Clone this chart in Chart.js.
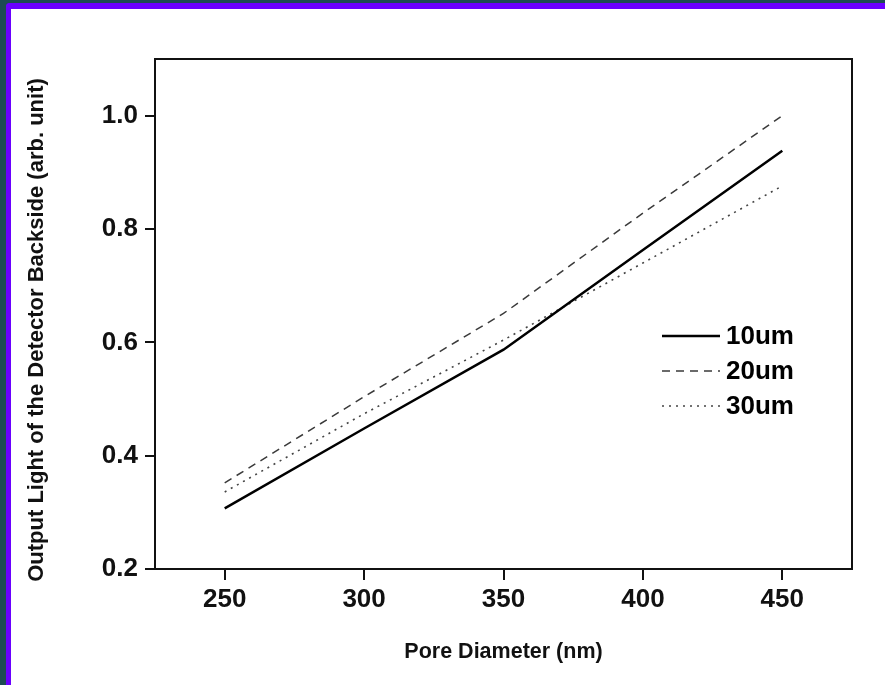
<!DOCTYPE html>
<html>
<head>
<meta charset="utf-8">
<script src="https://cdn.jsdelivr.net/npm/chart.js@4.4.1/dist/chart.umd.min.js"></script>
<style>
  html, body { margin: 0; padding: 0; background: #1d4b53; overflow: hidden; }
  #frame {
    position: absolute; left: 6px; top: 3px;
    width: 879px; height: 682px;
    border-left: 5px solid #6a00ff; border-top: 6px solid #6a00ff;
    border-top-left-radius: 4px;
    background: #fff;
  }
  #wrap { position: absolute; left: 0; top: 0; width: 874px; height: 676px; }
</style>
</head>
<body>
<div id="frame"><div id="wrap"><canvas id="poreChart"></canvas></div></div>
<script>
const poreSizes = [250, 300, 350, 400, 450];
const out10um = [0.307, 0.448, 0.587, 0.763, 0.938];
const out20um = [0.352, 0.504, 0.651, 0.828, 1.0];
const out30um = [0.336, 0.474, 0.604, 0.740, 0.876];
const xTicks = [250, 300, 350, 400, 450];
const yTicks = [0.2, 0.4, 0.6, 0.8, 1.0];
const yTitle = "Output Light of the Detector Backside (arb. unit)";

const FONT = "'Liberation Sans', Arial, sans-serif";

function pts(values) {
  return poreSizes.map((x, i) => ({ x: x, y: values[i] }));
}

// frame around plot area, y title and legend inside the plot
const boxAndLegend = {
  id: "boxAndLegend",
  afterDatasetsDraw(chart) {
    const { ctx, chartArea: a } = chart;
    ctx.save();
    ctx.strokeStyle = "#111";
    ctx.lineWidth = 2;
    ctx.beginPath();
    ctx.moveTo(a.left, a.top);
    ctx.lineTo(a.right, a.top);
    ctx.lineTo(a.right, a.bottom);
    ctx.stroke();

    // y axis title, a bit below the plot's middle
    ctx.save();
    ctx.translate(26, (a.top + a.bottom) / 2 + 16);
    ctx.rotate(-Math.PI / 2);
    ctx.fillStyle = "#111";
    ctx.font = "bold 22px " + FONT;
    ctx.textAlign = "center";
    ctx.textBaseline = "middle";
    ctx.fillText(yTitle, 0, 0);
    ctx.restore();

    const x1 = a.right - 190, x2 = a.right - 132;
    chart.data.datasets.forEach((ds, i) => {
      const y = a.top + 277 + i * 35;
      ctx.strokeStyle = ds.borderColor;
      ctx.lineWidth = ds.borderWidth;
      ctx.setLineDash(ds.borderDash || []);
      ctx.beginPath();
      ctx.moveTo(x1, y);
      ctx.lineTo(x2, y);
      ctx.stroke();
      ctx.setLineDash([]);
      ctx.fillStyle = "#000";
      ctx.font = "bold 26px " + FONT;
      ctx.textBaseline = "middle";
      ctx.fillText(ds.label, x2 + 6, y + 1);
    });
    ctx.restore();
  }
};

new Chart(document.getElementById("poreChart"), {
  type: "line",
  data: {
    datasets: [{
      label: "10um",
      data: pts(out10um),
      borderColor: "#000",
      borderWidth: 2.5,
      pointRadius: 0,
      tension: 0
    }, {
      label: "20um",
      data: pts(out20um),
      borderColor: "#3a3a3a",
      borderWidth: 1.5,
      borderDash: [8, 6],
      pointRadius: 0,
      tension: 0
    }, {
      label: "30um",
      data: pts(out30um),
      borderColor: "#444",
      borderWidth: 1.6,
      borderDash: [2, 5],
      pointRadius: 0,
      tension: 0
    }]
  },
  options: {
    responsive: true,
    maintainAspectRatio: false,
    animation: false,
    layout: { padding: { top: 50, right: 33, left: 0, bottom: 0 } },
    plugins: {
      legend: { display: false },
      tooltip: { enabled: false }
    },
    scales: {
      x: {
        type: "linear",
        min: 225,
        max: 475,
        afterBuildTicks: (s) => { s.ticks = xTicks.map(v => ({ value: v })); },
        afterFit: (s) => { s.height = 116; },
        ticks: {
          color: "#111",
          padding: 4,
          font: { family: FONT, size: 26, weight: "bold" }
        },
        grid: { drawOnChartArea: false, drawTicks: true, tickLength: 11, color: "#111", lineWidth: 2 },
        border: { display: true, color: "#111", width: 2 },
        title: {
          display: true,
          text: "Pore Diameter (nm)",
          color: "#111",
          padding: { top: 0, bottom: 20 },
          font: { family: FONT, size: 21.5, weight: "bold" }
        }
      },
      y: {
        min: 0.2,
        max: 1.1,
        afterBuildTicks: (s) => { s.ticks = yTicks.map(v => ({ value: v })); },
        afterFit: (s) => { s.width = 144; },
        ticks: {
          color: "#111",
          padding: 7,
          callback: (v) => v.toFixed(1),
          font: { family: FONT, size: 26, weight: "bold" }
        },
        grid: { drawOnChartArea: false, drawTicks: true, tickLength: 10, color: "#111", lineWidth: 2 },
        border: { display: true, color: "#111", width: 2 }
      }
    }
  },
  plugins: [boxAndLegend]
});
</script>
</body>
</html>
